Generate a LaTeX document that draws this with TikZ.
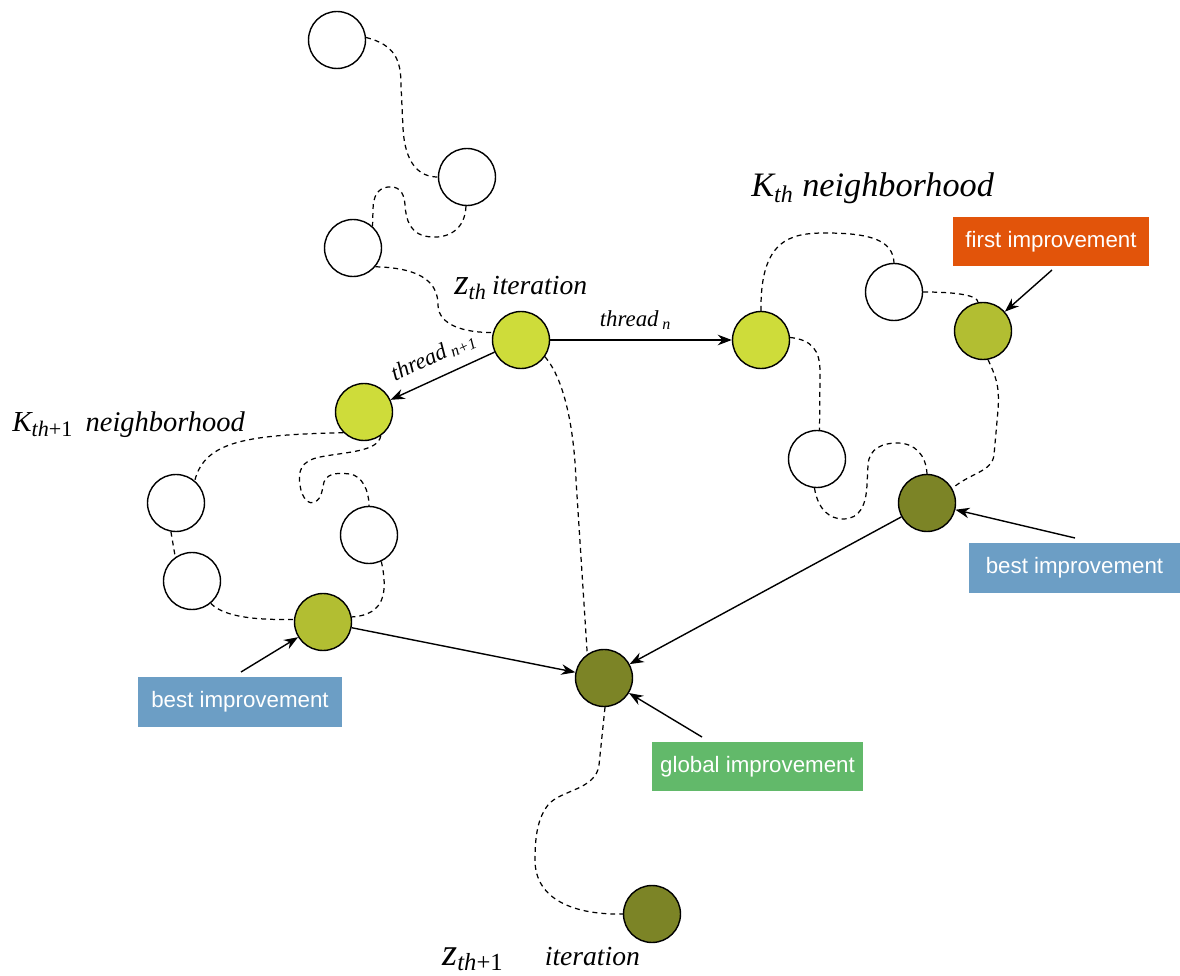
\documentclass[tikz,border=0pt]{standalone}
\usepackage{fontspec}
\setmainfont{Liberation Serif}
\newfontfamily\boxfont{Liberation Sans}
\usetikzlibrary{arrows.meta}

\definecolor{solLight}{RGB}{206,220,58}
\definecolor{solMid}{RGB}{178,190,50}
\definecolor{solDark}{RGB}{124,132,38}
\definecolor{tagOrange}{RGB}{226,84,10}
\definecolor{tagBlue}{RGB}{108,158,197}
\definecolor{tagGreen}{RGB}{98,185,106}

\tikzset{
  state/.style={circle, draw=black, line width=0.8pt, minimum size=1.14cm, inner sep=0pt, fill=white},
  walk/.style={line width=0.7pt, dash pattern=on 2.8pt off 2.3pt},
  move/.style={line width=0.8pt, -{Stealth[length=8pt,width=6pt]}},
  tag/.style={text=white, inner sep=0pt, font=\boxfont\fontsize{12.7}{14}\selectfont},
  caption/.style={inner sep=0pt, font=\itshape},
}

\newcommand\capsize[1]{\fontsize{#1}{#1}\selectfont}

\begin{document}
\begin{tikzpicture}[x=0.02cm, y=-0.02cm]
\useasboundingbox (0,0) rectangle (1180,976);

% candidate solutions
\node[state] (T1) at (337,40) {};
\node[state] (T2) at (467,177) {};
\node[state] (T3) at (353,248) {};
\node[state, fill=solLight] (Z) at (521,340) {};
\node[state, fill=solLight] (Kn) at (761,340) {};
\node[state] (W1) at (894,292) {};
\node[state, fill=solMid] (FI) at (983,331) {};
\node[state] (W2) at (817,459) {};
\node[state, fill=solDark] (BR) at (927,503) {};
\node[state, fill=solLight] (Kl) at (364,412) {};
\node[state] (WL1) at (176,503) {};
\node[state] (WL2) at (192,581) {};
\node[state] (WL3) at (369,535) {};
\node[state, fill=solMid] (BL) at (323,622) {};
\node[state, fill=solDark] (G) at (604,678) {};
\node[state, fill=solDark] (Z1) at (652,914) {};

% improvement tags
\node[tag, fill=tagOrange, minimum width=3.92cm, minimum height=0.98cm] (FIbox) at (1051,241.5) {first improvement};
\node[tag, fill=tagBlue, minimum width=4.22cm, minimum height=1.0cm] (BRbox) at (1074.5,568) {best improvement};
\node[tag, fill=tagBlue, minimum width=4.08cm, minimum height=1.0cm] (BLbox) at (240,702) {best improvement};
\node[tag, fill=tagGreen, minimum width=4.22cm, minimum height=0.98cm] (Gbox) at (757.5,766.5) {global improvement};

\coordinate (fiTail) at (1052,270);
\coordinate (brTail) at (1075,538);
\coordinate (blTail) at (241,672);
\coordinate (gTail) at (702,737);

% captions
\node[caption, anchor=base west] (zcap) at (454,295)
  {{\capsize{21}z}{\capsize{18}\textsubscript{th}}\hspace{3pt}\capsize{15.7}iteration};
\node[caption, anchor=base west] (kcap) at (751,197)
  {\capsize{19.5}K\textsubscript{th} neighborhood};
\node[caption, anchor=base west] (klcap) at (12,432)
  {{\capsize{16.5}K}{\capsize{18}\textsubscript{th\upshape+1}}\hspace{7pt}\capsize{16.2}neighborhood};
\node[caption, anchor=base west] (z1cap) at (442,965)
  {{\capsize{22}z}{\capsize{20}\textsubscript{th\upshape+1}}\hspace{23.5pt}\capsize{15.7}iteration};

% random walks
\draw[walk] (T1.5) .. controls (395,45) and (401,60) .. (401,85) -- (403,128)
  .. controls (405,165) and (420,177) .. (T2.180);
\draw[walk] (T2.268) .. controls (465,230) and (448,238) .. (432,237)
  .. controls (410,236) and (406,220) .. (405,205)
  .. controls (404,190) and (397,186) .. (388,187)
  .. controls (378,188) and (373,196) .. (373,210) -- (T3.48);
\draw[walk] (T3.-40) .. controls (425,268) and (438,285) .. (438,305)
  .. controls (438,325) and (465,333) .. (Z.165);
\draw[walk] (Z.-35) .. controls (565,380) and (574,430) .. (576,480) -- (G.125);
\draw[walk] (Kn.90) .. controls (760,240) and (790,233) .. (825,233)
  .. controls (870,233) and (893,240) .. (W1.90);
\draw[walk] (W1.0) .. controls (960,292) and (978,296) .. (FI.100);
\draw[walk] (Kn.5) .. controls (812,340) and (820,350) .. (820,372) -- (W2.85);
\draw[walk] (W2.-95) .. controls (818,510) and (830,519) .. (843,519)
  .. controls (860,519) and (866,505) .. (867,485) -- (868,465)
  .. controls (869,448) and (883,443) .. (897,443)
  .. controls (915,443) and (926,455) .. (BR.90);
\draw[walk] (FI.-80) .. controls (995,375) and (1000,385) .. (998,410) -- (994,455)
  .. controls (992,472) and (970,473) .. (BR.30);
\draw[walk] (Kl.-135) .. controls (250,435) and (205,440) .. (WL1.50);
\draw[walk] (Kl.-55) .. controls (378,452) and (345,452) .. (320,457)
  .. controls (300,461) and (298,472) .. (300,485)
  .. controls (302,500) and (310,505) .. (315,502)
  .. controls (322,498) and (322,490) .. (324,482)
  .. controls (328,472) and (340,473) .. (350,474)
  .. controls (362,476) and (369,490) .. (WL3.90);
\draw[walk] (WL1.-100) -- (WL2.125);
\draw[walk] (WL2.-50) .. controls (225,618) and (260,620) .. (BL.175);
\draw[walk] (WL3.-65) .. controls (388,592) and (385,615) .. (BL.10);
\draw[walk] (G.-88) -- (599,765) .. controls (596,790) and (560,790) .. (548,805)
  .. controls (538,818) and (535,835) .. (535,860)
  .. controls (535,900) and (575,915) .. (Z1.180);

% threads and improvements
\draw[move] (Z) -- node[pos=0.47, above=2pt, font=\itshape\capsize{13}] (tn) {thread\,\textsubscript{n}} (Kn);
\draw[line width=0.8pt, {Stealth[length=8pt,width=6pt]}-] (Kl) -- node[midway, sloped, above=3pt, font=\itshape\capsize{13}] (tn1) {thread\,\textsubscript{n+1}} (Z);
\draw[move] (BL) -- (G);
\draw[move] (BR) -- (G);
\draw[move] (fiTail) -- (FI);
\draw[move] (brTail) -- (BR);
\draw[move] (blTail) -- (BL);
\draw[move] (gTail) -- (G);
\end{tikzpicture}
\end{document}
